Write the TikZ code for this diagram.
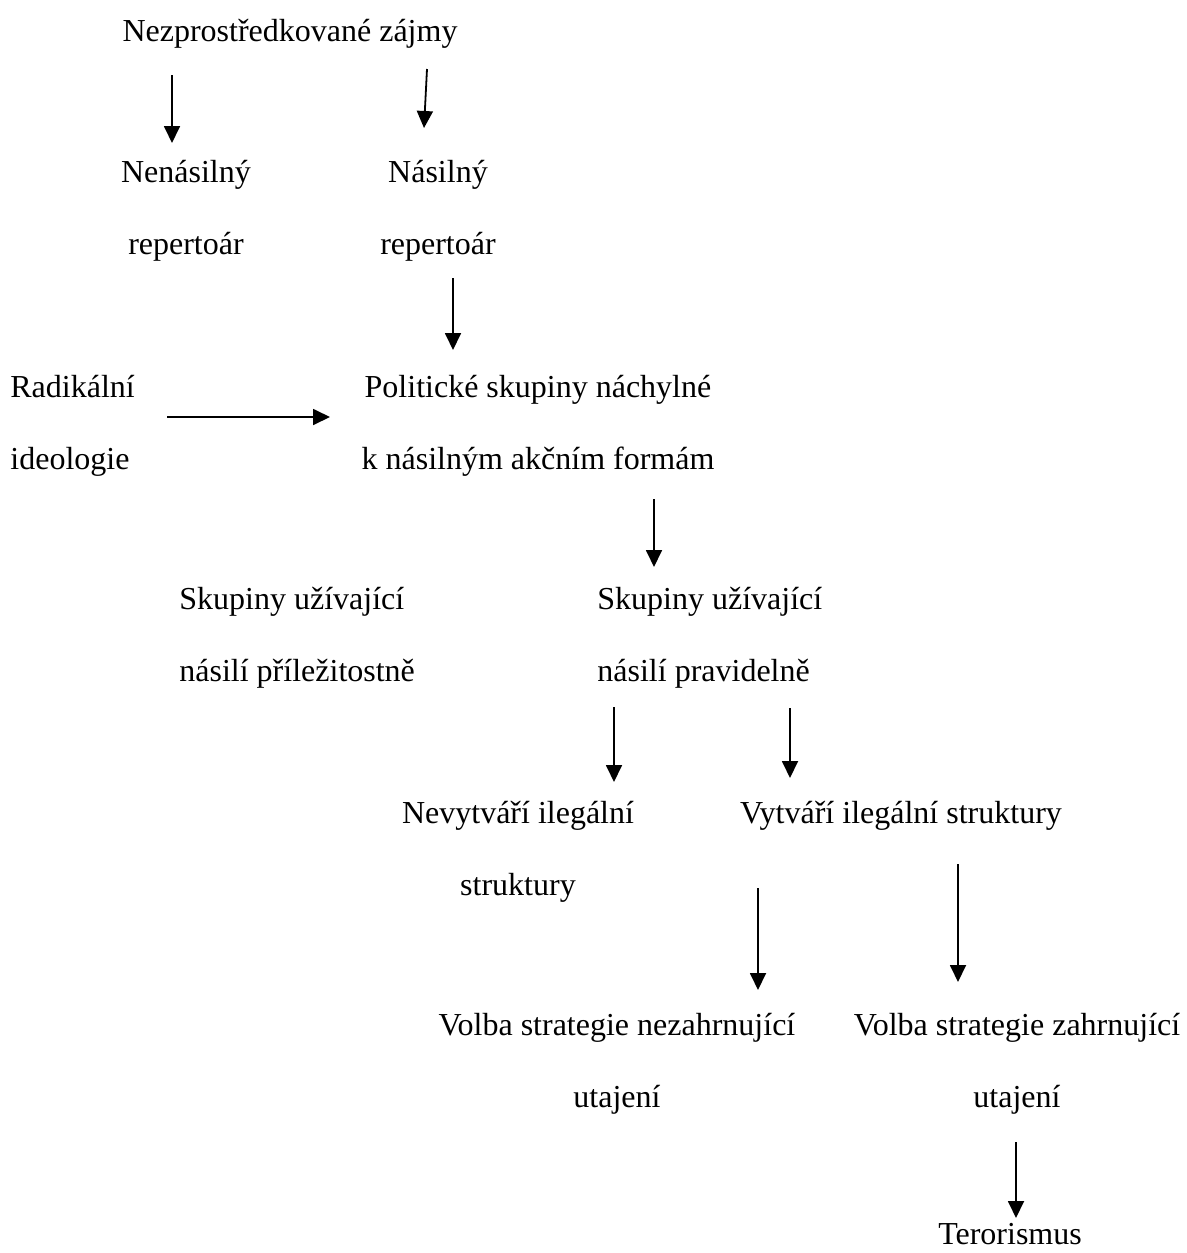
\documentclass[tikz,border=0pt]{standalone}
\usepackage{fontspec}
\setmainfont{Liberation Serif}
\usetikzlibrary{arrows.meta,calc}

\begin{document}
\begin{tikzpicture}[x=0.5pt,y=-0.5pt,>={Triangle[length=8.5pt,width=8pt]},
  every node/.style={font=\fontsize{16}{36}\selectfont,inner sep=0pt,anchor=base},
  arr/.style={->,line width=0.9pt}]
\useasboundingbox (0,0) rectangle (1187,1253);

\node (zajmy) at (290,41) {Nezprostředkované zájmy};
\node[align=center] (nenasil) at (186,254) {Nenásilný\\repertoár};
\node[align=center] (nasil) at (438,254) {Násilný\\repertoár};
\node[align=left,anchor=base west] (radik) at (10,469) {Radikální\\ideologie};
\node[align=center] (polit) at (538,469) {Politické skupiny náchylné\\k násilným akčním formám};
\node[align=left,anchor=base west] (prilez) at (179,681) {Skupiny užívající\\násilí příležitostně};
\node[align=left,anchor=base west] (pravid) at (597,681) {Skupiny užívající\\násilí pravidelně};
\node[align=center] (nevytv) at (518,895) {Nevytváří ilegální\\struktury};
\node (vytv) at (901,823) {Vytváří ilegální struktury};
\node[align=center] (nezahr) at (617,1107) {Volba strategie nezahrnující\\utajení};
\node[align=center] (zahr) at (1017,1107) {Volba strategie zahrnující\\utajení};
\node (teror) at (1010,1244) {Terorismus};

% sipky
\draw[arr] ($(zajmy.base)+(-118,34)$) -- ($(nenasil.base)+(-14,-111)$);
\draw[arr] ($(zajmy.base)+(137,28)$) -- ($(nasil.base)+(-14,-126)$);
\draw[arr] ($(nasil.base)+(15,24)$) -- ($(polit.base)+(-85,-119)$);
\draw[arr] ($(radik.base west)+(157,-52)$) -- ($(polit.base)+(-208,-52)$);
\draw[arr] ($(polit.base)+(116,30)$) -- ($(pravid.base west)+(57,-114)$);
\draw[arr] ($(pravid.base west)+(17,26)$) -- ($(nevytv.base)+(96,-113)$);
\draw[arr] ($(pravid.base west)+(193,27)$) -- ($(vytv.base)+(-111,-45)$);
\draw[arr] ($(vytv.base)+(-143,65)$) -- ($(nezahr.base)+(141,-117)$);
\draw[arr] ($(vytv.base)+(57,41)$) -- ($(zahr.base)+(-59,-125)$);
\draw[arr] ($(zahr.base)+(-1,35)$) -- ($(teror.base)+(6,-26)$);

\end{tikzpicture}
\end{document}
